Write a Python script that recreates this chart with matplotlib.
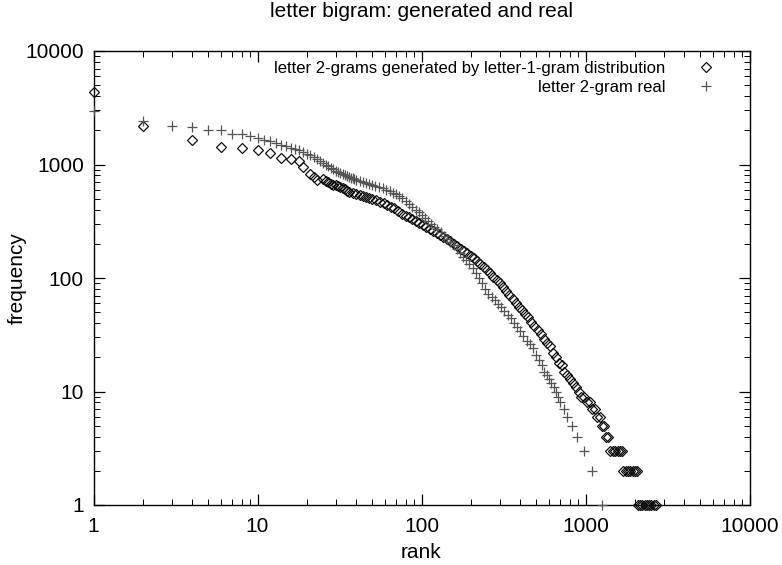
import matplotlib
matplotlib.use("Agg")
import matplotlib.pyplot as plt
from matplotlib.ticker import LogLocator, FixedFormatter, FixedLocator, NullFormatter

plt.rcParams['font.family'] = ['Liberation Sans', 'DejaVu Sans']

# letter 2-grams generated by letter-1-gram distribution (diamonds)
gen_rank = [1, 2, 4, 6, 8, 10, 12, 14, 16, 18, 19, 21, 22, 23, 25, 26, 27, 28, 29,
            30, 31, 32, 33, 34, 35, 36, 38, 40, 42, 44, 46, 48, 50, 53, 56, 59, 62,
            65, 68, 72, 76, 80, 84, 88, 92, 97, 102, 107, 112, 118, 124, 130, 136,
            143, 150, 157, 165, 173, 181, 190, 199, 208, 218, 228, 239, 250, 262,
            274, 287, 300, 314, 328, 343, 359, 375, 392, 410, 428, 447, 467, 488,
            510, 532, 555, 579, 604, 630, 657, 685, 714, 744, 775, 807, 840, 874,
            909, 945, 982, 1020, 1060, 1100, 1140, 1180, 1220, 1260, 1300, 1340,
            1380, 1420, 1470, 1520, 1570, 1620, 1670, 1700, 1760, 1820, 1880, 1940,
            2000, 2060, 2080, 2150, 2220, 2290, 2360, 2440, 2520, 2600, 2700]
gen_freq = [4350, 2170, 1640, 1430, 1410, 1350, 1260, 1150, 1110, 1080, 950, 830,
            780, 730, 740, 720, 700, 680, 665, 655, 645, 635, 625, 610, 590, 575,
            560, 550, 540, 528, 515, 505, 495, 482, 468, 455, 440, 425, 410, 390,
            370, 355, 342, 330, 320, 305, 292, 280, 270, 260, 250, 240, 230, 220,
            210, 200, 190, 181, 173, 165, 157, 149, 141, 133, 126, 118, 110, 103,
            96, 90, 83, 77, 71, 65, 60, 56, 52, 48, 45, 41, 38, 35, 32, 29, 27, 25,
            22, 20, 18, 17, 15, 14, 13, 12, 11, 10, 9, 9, 8, 8, 7, 7, 6, 6, 5, 5,
            4, 4, 3, 3, 3, 3, 3, 3, 2, 2, 2, 2, 2, 2, 2, 1, 1, 1, 1, 1, 1, 1, 1, 1]

# letter 2-gram real (pluses)
real_rank = [1, 2, 3, 4, 5, 6, 7, 8, 9, 10, 11, 12, 13, 14, 15, 16, 17, 18, 19, 20,
             21, 22, 23, 24, 25, 26, 27, 28, 29, 30, 31, 32, 33, 34, 35, 36, 37, 38,
             39, 40, 42, 44, 46, 48, 50, 52, 55, 58, 61, 64, 67, 70, 73, 76, 80, 84,
             88, 92, 96, 100, 105, 110, 115, 120, 125, 131, 137, 143, 150, 157, 164,
             172, 180, 188, 196, 205, 214, 224, 234, 245, 256, 268, 280, 293, 306,
             320, 335, 350, 366, 383, 400, 418, 437, 457, 478, 500, 520, 540, 560,
             580, 600, 620, 640, 660, 680, 700, 740, 766, 830, 889, 973, 1099, 1255]
real_freq = [2960, 2400, 2170, 2160, 2030, 2030, 1870, 1850, 1770, 1720, 1660, 1610,
             1560, 1500, 1450, 1410, 1370, 1330, 1290, 1250, 1210, 1170, 1120, 1070,
             1030, 1000, 970, 940, 910, 885, 860, 840, 820, 800, 785, 775, 765, 755,
             745, 735, 715, 700, 685, 672, 660, 650, 635, 615, 600, 585, 565, 545,
             525, 505, 480, 450, 425, 400, 380, 360, 340, 320, 300, 282, 268, 252,
             236, 222, 207, 194, 180, 165, 152, 143, 132, 122, 111, 100, 90, 80, 73,
             68, 64, 59, 55, 51, 47, 44, 40, 37, 34, 31, 28, 26, 24, 21, 19, 17, 15,
             14, 13, 12, 11, 10, 9, 8, 7, 6, 5, 4, 3, 2, 1]

decades = [1, 10, 100, 1000, 10000]
decade_labels = ["1", "10", "100", "1000", "10000"]

fig = plt.figure(figsize=(7.82, 5.65), dpi=100)
ax = fig.add_axes([93.5 / 782, 60 / 565, 656 / 782, 454 / 565])

ax.plot(gen_rank, gen_freq, linestyle='none', marker='D', markersize=5.6,
        markerfacecolor='none', markeredgecolor='#111111', markeredgewidth=0.9,
        clip_on=False, zorder=3,
        label='letter 2-grams generated by letter-1-gram distribution')
ax.plot(real_rank, real_freq, linestyle='none', marker='+', markersize=7.5,
        color='#555555', markeredgewidth=0.9, clip_on=False, zorder=3,
        label='letter 2-gram real')

ax.set_xscale('log')
ax.set_yscale('log')
ax.set_xlim(1, 10000)
ax.set_ylim(1, 10000)

for axis in (ax.xaxis, ax.yaxis):
    axis.set_major_locator(FixedLocator(decades))
    axis.set_major_formatter(FixedFormatter(decade_labels))
    axis.set_minor_locator(LogLocator(base=10, subs=range(2, 10), numticks=20))
    axis.set_minor_formatter(NullFormatter())

ax.tick_params(which='both', direction='in', top=True, right=True,
               labelsize=15, colors='black')
ax.tick_params(which='major', length=8, width=0.9)
ax.tick_params(which='minor', length=4, width=0.7)
ax.tick_params(axis='x', which='major', pad=8.5)
ax.tick_params(axis='y', which='major', pad=7)
for s in ax.spines.values():
    s.set_linewidth(1.0)

ax.set_xlabel('rank', fontsize=15, labelpad=5)
ax.set_ylabel('frequency', fontsize=15, labelpad=-1)
ax.set_title('letter bigram: generated and real', fontsize=15, pad=24.5)

leg = ax.legend(loc='upper right', bbox_to_anchor=(0.9635, 0.9934),
                frameon=False, markerfirst=False, fontsize=12,
                handletextpad=1.7, borderaxespad=0, labelspacing=0.25,
                handlelength=1.5)

plt.savefig('out.png', dpi=100)
